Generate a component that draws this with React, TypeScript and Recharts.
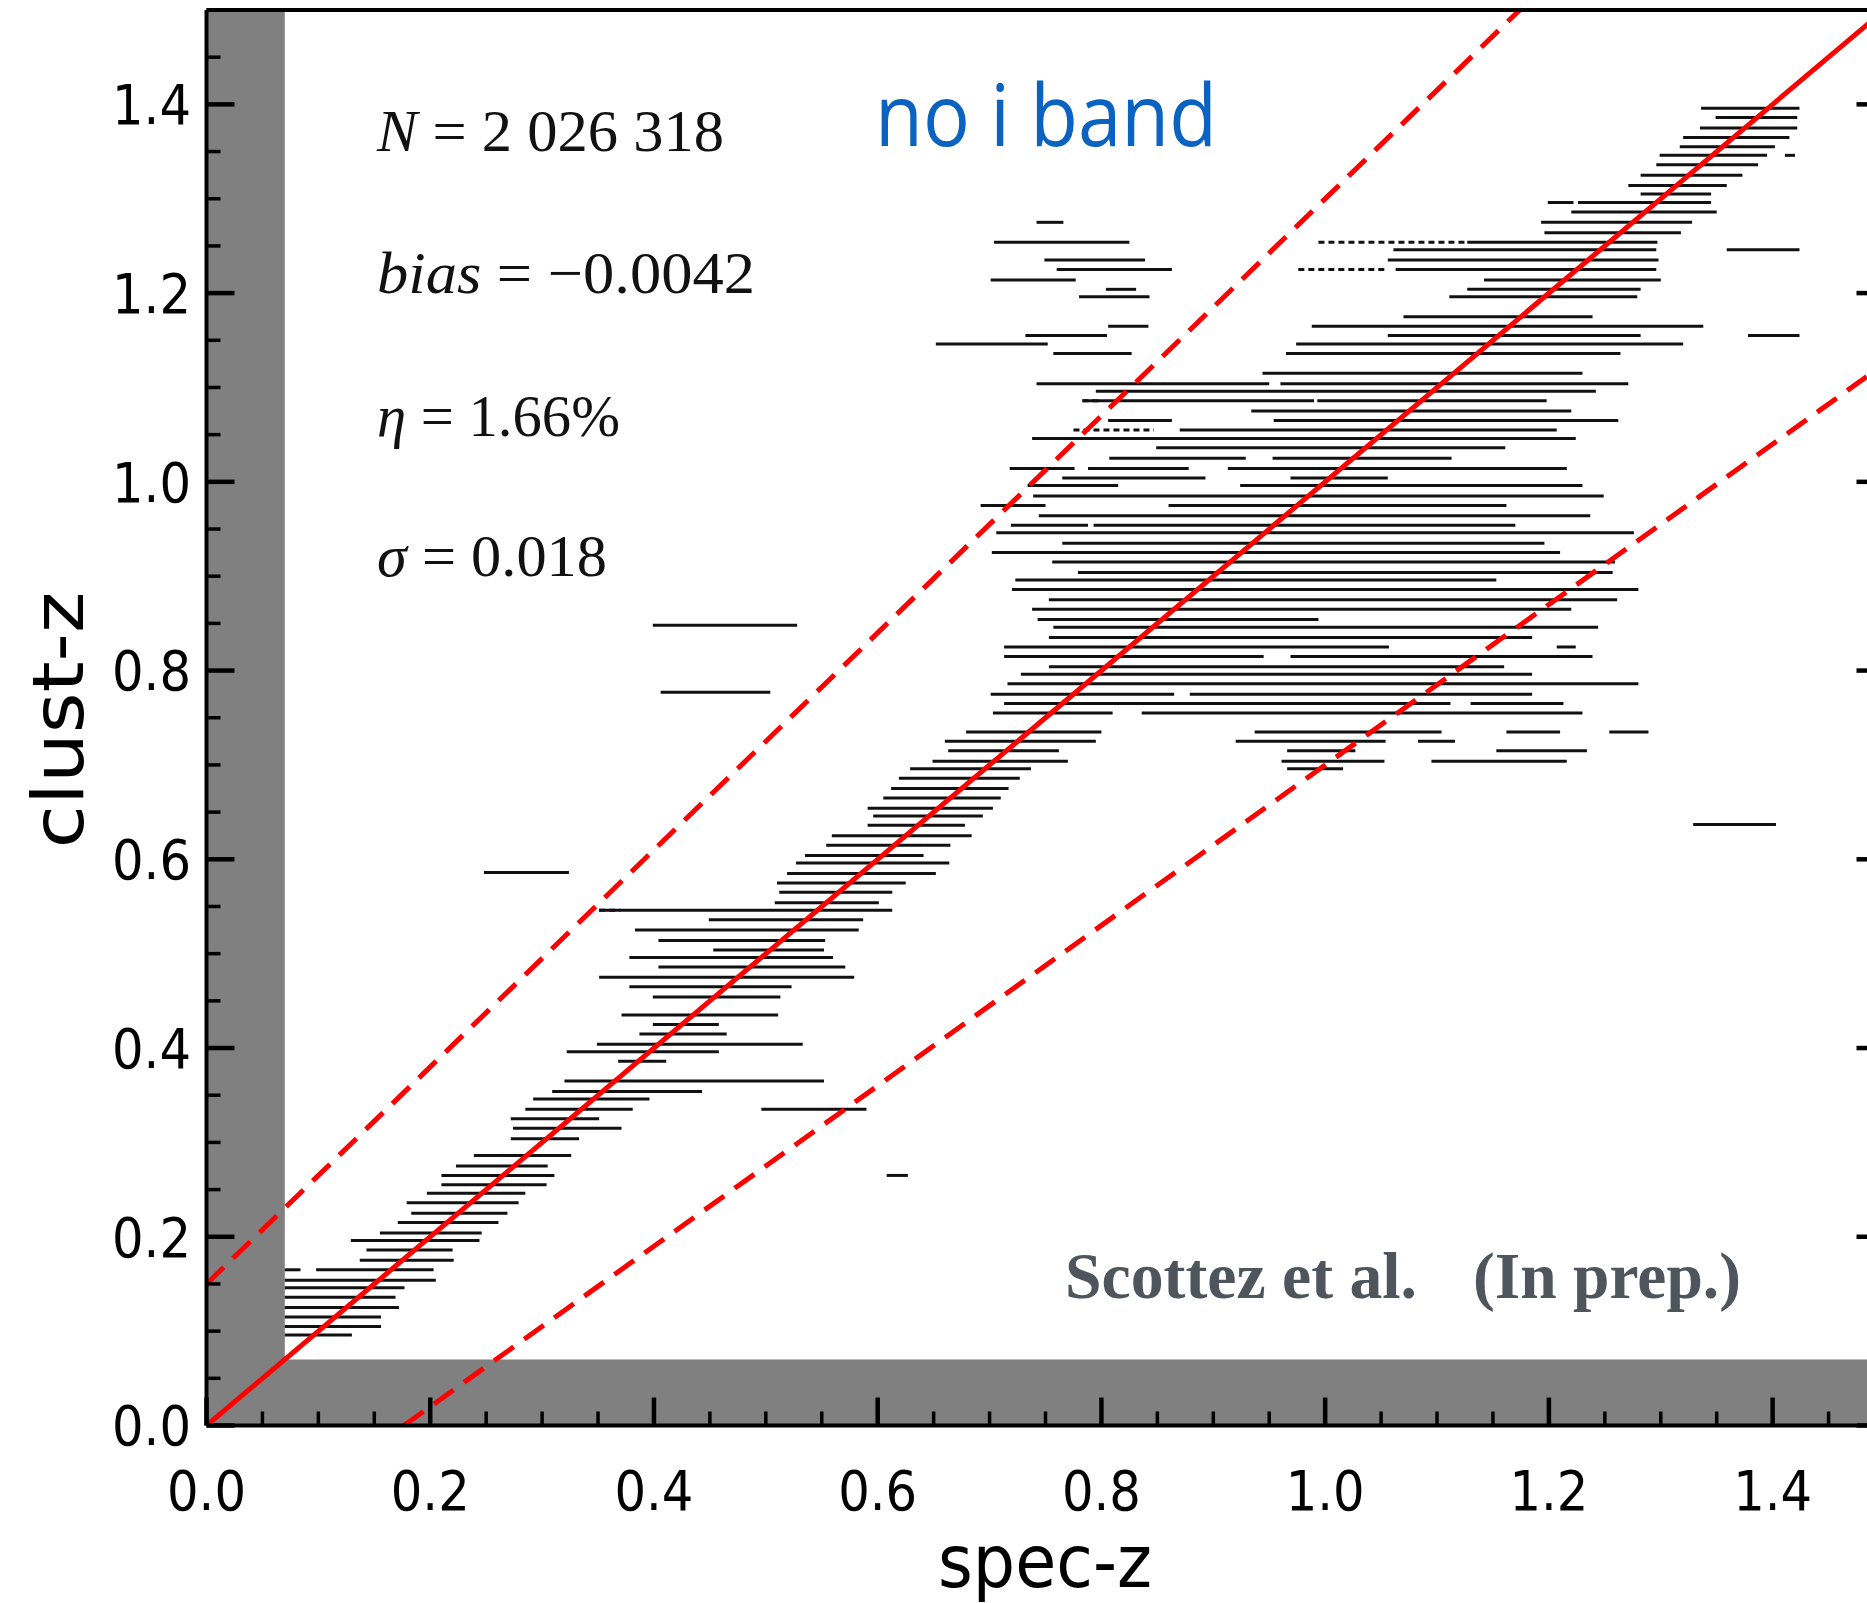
import React from 'react';
import { ComposedChart, XAxis, YAxis, ReferenceLine, ReferenceArea } from 'recharts';

// each row: [clust-z, spec-z start, spec-z end]
type Row = [number, number, number];

// upper part of the diagonal (clust-z > 1.19)
const upperRows: Row[] = [
  [1.396, 1.336, 1.424], [1.386, 1.349, 1.422], [1.375, 1.335, 1.422], [1.365, 1.32, 1.415],
  [1.355, 1.317, 1.402], [1.346, 1.299, 1.395], [1.346, 1.411, 1.42], [1.336, 1.296, 1.387],
  [1.325, 1.282, 1.373], [1.314, 1.271, 1.359], [1.305, 1.282, 1.345], [1.296, 1.199, 1.222],
  [1.296, 1.226, 1.345], [1.286, 1.22, 1.35], [1.275, 1.193, 1.328], [1.264, 1.196, 1.318],
  [1.254, 1.127, 1.297], [1.254, 0.704, 0.825], [1.246, 1.061, 1.296], [1.235, 1.056, 1.298],
  [1.235, 0.749, 0.839], [1.225, 1.063, 1.296], [1.225, 0.76, 0.863], [1.214, 1.142, 1.3],
  [1.214, 0.701, 0.777], [1.204, 1.127, 1.282], [1.204, 0.804, 0.831], [1.196, 1.111, 1.279],
  [1.196, 0.78, 0.843],
];

// broad plateau (0.95 < clust-z < 1.19)
const plateauRows: Row[] = [
  [1.175, 1.07, 1.239], [1.165, 0.806, 0.842], [1.165, 0.988, 1.338], [1.155, 0.732, 0.805],
  [1.155, 1.056, 1.282], [1.146, 0.652, 0.752], [1.146, 0.974, 1.32], [1.136, 0.757, 0.827],
  [1.136, 0.965, 1.264], [1.115, 0.944, 1.23], [1.104, 0.742, 0.95], [1.104, 0.96, 1.271],
  [1.096, 0.795, 1.242], [1.086, 0.783, 0.99], [1.086, 0.993, 1.198], [1.075, 0.934, 1.22],
  [1.065, 0.806, 0.863], [1.065, 0.954, 1.262], [1.055, 0.87, 1.207], [1.046, 0.738, 1.224],
  [1.036, 0.849, 1.161], [1.025, 0.807, 0.929], [1.025, 0.953, 1.113], [1.014, 0.718, 0.776],
  [1.014, 0.788, 0.878], [1.014, 0.913, 1.216], [1.004, 0.765, 0.893], [1.004, 0.969, 1.056],
  [0.996, 0.734, 0.815], [0.996, 0.924, 1.23], [0.985, 0.739, 1.249], [0.975, 0.692, 0.75],
  [0.975, 0.86, 1.162], [0.964, 0.744, 1.237], [0.954, 0.719, 0.788], [0.954, 0.793, 1.17],
];

// dense core (0.69 < clust-z < 0.95)
const coreRows: Row[] = [
  [0.946, 0.706, 1.276], [0.935, 0.765, 1.196], [0.925, 0.702, 1.21], [0.915, 0.756, 1.259],
  [0.904, 0.779, 1.257], [0.896, 0.723, 1.153], [0.886, 0.72, 1.28], [0.875, 0.753, 1.261],
  [0.865, 0.738, 1.22], [0.854, 0.743, 0.994], [0.846, 0.757, 1.244], [0.835, 0.753, 1.185],
  [0.825, 0.713, 1.057], [0.825, 1.207, 1.224], [0.815, 0.713, 0.945], [0.815, 0.969, 1.239],
  [0.804, 0.753, 1.16], [0.796, 0.728, 1.185], [0.786, 0.716, 1.28], [0.775, 0.701, 0.865],
  [0.775, 0.879, 1.185], [0.765, 0.713, 1.112], [0.765, 1.13, 1.213], [0.755, 0.703, 0.81],
  [0.755, 0.836, 1.23], [0.735, 0.679, 0.8], [0.735, 0.937, 1.104], [0.735, 1.162, 1.21],
  [0.735, 1.254, 1.289], [0.725, 0.66, 0.795], [0.725, 0.92, 1.054], [0.725, 1.083, 1.116],
  [0.715, 0.663, 0.762], [0.715, 0.966, 1.027], [0.715, 1.153, 1.234], [0.704, 0.649, 0.77],
  [0.704, 0.961, 1.053], [0.704, 1.095, 1.216], [0.696, 0.629, 0.737], [0.696, 0.966, 1.016],
];

// lower diagonal (clust-z < 0.69)
const lowerRows: Row[] = [
  [0.686, 0.619, 0.727], [0.675, 0.612, 0.717], [0.665, 0.605, 0.71], [0.654, 0.591, 0.703],
  [0.646, 0.596, 0.694], [0.636, 0.591, 0.678], [0.625, 0.559, 0.684], [0.615, 0.554, 0.665],
  [0.604, 0.535, 0.641], [0.596, 0.527, 0.664], [0.585, 0.519, 0.652], [0.575, 0.51, 0.625],
  [0.565, 0.512, 0.613], [0.554, 0.508, 0.601], [0.546, 0.351, 0.613], [0.536, 0.449, 0.587],
  [0.525, 0.383, 0.583], [0.514, 0.404, 0.553], [0.504, 0.453, 0.552], [0.496, 0.378, 0.56],
  [0.486, 0.404, 0.571], [0.475, 0.351, 0.579], [0.465, 0.378, 0.523], [0.454, 0.399, 0.513],
  [0.435, 0.371, 0.511], [0.425, 0.399, 0.458], [0.415, 0.387, 0.465], [0.404, 0.349, 0.533],
  [0.396, 0.322, 0.458], [0.386, 0.368, 0.411], [0.365, 0.32, 0.552], [0.354, 0.309, 0.443],
  [0.346, 0.292, 0.396], [0.335, 0.285, 0.381], [0.325, 0.272, 0.351], [0.315, 0.274, 0.371],
  [0.304, 0.272, 0.333], [0.286, 0.239, 0.326], [0.275, 0.223, 0.305], [0.265, 0.21, 0.311],
  [0.255, 0.21, 0.304], [0.246, 0.197, 0.285], [0.236, 0.179, 0.279], [0.225, 0.183, 0.269],
  [0.215, 0.171, 0.261], [0.204, 0.155, 0.246], [0.196, 0.129, 0.244], [0.186, 0.143, 0.22],
  [0.175, 0.137, 0.221], [0.165, 0.07, 0.084], [0.165, 0.098, 0.203], [0.154, 0.07, 0.205],
  [0.146, 0.07, 0.177], [0.136, 0.07, 0.169], [0.125, 0.07, 0.172], [0.115, 0.07, 0.156],
  [0.105, 0.07, 0.156], [0.096, 0.07, 0.13],
];

// isolated rows away from the diagonal
const strayRows: Row[] = [
  [1.275, 0.742, 0.766], [1.246, 1.359, 1.424], [1.155, 1.378, 1.424], [0.848, 0.399, 0.528],
  [0.777, 0.406, 0.504], [0.637, 1.329, 1.403], [0.586, 0.248, 0.324], [0.335, 0.496, 0.59],
  [0.265, 0.608, 0.627],
];

// sparse (dotted) rows
const sparseRows: Row[] = [
  [1.254, 0.994, 1.127], [1.225, 0.976, 1.056], [1.055, 0.775, 0.847], [1.086, 0.783, 0.8],
  [0.546, 0.351, 0.37],
];

// outlier limits |dz| = 0.15 (1 + z) and the 1:1 line
const oneToOne = [{ x: 0, y: 0 }, { x: 1.5, y: 1.5 }];
const upperLimit = [{ x: 0, y: 0.15 }, { x: 1.1739, y: 1.5 }];
const lowerLimit = [{ x: 0.1765, y: 0 }, { x: 1.5, y: 1.125 }];

// masked region below z = 0.07
const maskEdge = 0.07;

const majorTicks = [0, 0.2, 0.4, 0.6, 0.8, 1.0, 1.2, 1.4];
const axisTicks = [
  0, 0.05, 0.1, 0.15, 0.2, 0.25, 0.3, 0.35, 0.4, 0.45, 0.5, 0.55, 0.6, 0.65, 0.7, 0.75,
  0.8, 0.85, 0.9, 0.95, 1.0, 1.05, 1.1, 1.15, 1.2, 1.25, 1.3, 1.35, 1.4, 1.45, 1.5,
];

const isMajor = (v: number) => majorTicks.some((m) => Math.abs(m - v) < 1e-6);

const MAJOR = 28;
const MINOR = 14;
const MAJOR_W = 4.5;
const MINOR_W = 3.5;
const tickFont = "'DejaVu Sans', sans-serif";

const BottomTick = (props: any) => {
  const { x, y, payload } = props;
  const major = isMajor(payload.value);
  return (
    <g>
      <line x1={x} y1={y} x2={x} y2={y - (major ? MAJOR : MINOR)} stroke="#000" strokeWidth={major ? MAJOR_W : MINOR_W} />
      {major && (
        <text
          transform={`translate(${x},${y + 84.5}) scale(1,1.1)`}
          textAnchor="middle"
          fontFamily={tickFont}
          fontSize={50}
          textLength={79}
          lengthAdjust="spacingAndGlyphs"
          fill="#000"
        >
          {payload.value.toFixed(1)}
        </text>
      )}
    </g>
  );
};

const TopTick = (props: any) => {
  const { x, y, payload } = props;
  const major = isMajor(payload.value);
  return <line x1={x} y1={y} x2={x} y2={y + (major ? MAJOR : MINOR)} stroke="#000" strokeWidth={major ? MAJOR_W : MINOR_W} />;
};

const LeftTick = (props: any) => {
  const { x, y, payload } = props;
  const major = isMajor(payload.value);
  return (
    <g>
      <line x1={x} y1={y} x2={x + (major ? MAJOR : MINOR)} y2={y} stroke="#000" strokeWidth={major ? MAJOR_W : MINOR_W} />
      {major && (
        <text
          transform={`translate(${x - 15.5},${y}) scale(1,1.1)`}
          dy="0.36em"
          textAnchor="end"
          fontFamily={tickFont}
          fontSize={50}
          textLength={79}
          lengthAdjust="spacingAndGlyphs"
          fill="#000"
        >
          {payload.value.toFixed(1)}
        </text>
      )}
    </g>
  );
};

const RightTick = (props: any) => {
  const { x, y, payload } = props;
  const major = isMajor(payload.value);
  return <line x1={x} y1={y} x2={x - (major ? MAJOR : MINOR)} y2={y} stroke="#000" strokeWidth={major ? MAJOR_W : MINOR_W} />;
};

const rowLines = (rows: Row[], prefix: string, dashed = false) =>
  rows.map(([z, x1, x2], i) => (
    <ReferenceLine
      key={`${prefix}-${i}`}
      segment={[{ x: x1, y: z }, { x: x2, y: z }]}
      stroke="#111"
      strokeWidth={3}
      strokeDasharray={dashed ? '6 4' : undefined}
      ifOverflow="visible"
    />
  ));

const axisLine = { stroke: '#000', strokeWidth: 4 };

export default function App() {
  return (
    <div style={{ position: 'fixed', left: 0, top: 0, width: 1867, height: 1603, overflow: 'hidden', background: '#fff' }}>
      <ComposedChart width={1900} height={1603} margin={{ top: 0, right: 5.5, bottom: 117.5, left: 146.5 }} data={[]}>
        {rowLines(upperRows, 'u')}
        {rowLines(plateauRows, 'p')}
        {rowLines(coreRows, 'c')}
        {rowLines(lowerRows, 'l')}
        {rowLines(strayRows, 's')}
        {rowLines(sparseRows, 'd', true)}

        <ReferenceArea x1={0} x2={maskEdge} y1={0} y2={1.5} fill="#808080" fillOpacity={1} stroke="none" ifOverflow="visible" />
        <ReferenceArea x1={0} x2={1.5} y1={0} y2={maskEdge} fill="#808080" fillOpacity={1} stroke="none" ifOverflow="visible" />

        <ReferenceLine segment={oneToOne} stroke="#ff0000" strokeWidth={5} ifOverflow="visible" />
        <ReferenceLine segment={upperLimit} stroke="#ff0000" strokeWidth={5} strokeDasharray="24 13" ifOverflow="visible" />
        <ReferenceLine segment={lowerLimit} stroke="#ff0000" strokeWidth={5} strokeDasharray="24 13" ifOverflow="visible" />

        <XAxis
          type="number"
          dataKey="x"
          domain={[0, 1.5]}
          allowDataOverflow
          ticks={axisTicks}
          interval={0}
          height={60}
          tickSize={0}
          tickMargin={0}
          tickLine={false}
          axisLine={axisLine}
          tick={<BottomTick />}
        />
        <XAxis
          xAxisId="top"
          orientation="top"
          type="number"
          domain={[0, 1.5]}
          allowDataOverflow
          ticks={axisTicks}
          interval={0}
          height={10}
          tickSize={0}
          tickMargin={0}
          tickLine={false}
          axisLine={axisLine}
          tick={<TopTick />}
        />
        <YAxis
          type="number"
          dataKey="y"
          domain={[0, 1.5]}
          allowDataOverflow
          ticks={axisTicks}
          interval={0}
          width={60}
          tickSize={0}
          tickMargin={0}
          tickLine={false}
          axisLine={axisLine}
          tick={<LeftTick />}
        />
        <YAxis
          yAxisId="right"
          orientation="right"
          type="number"
          domain={[0, 1.5]}
          allowDataOverflow
          ticks={axisTicks}
          interval={0}
          width={10}
          tickSize={0}
          tickMargin={0}
          tickLine={false}
          axisLine={axisLine}
          tick={<RightTick />}
        />
      </ComposedChart>

      <svg width={1867} height={1603} style={{ position: 'absolute', left: 0, top: 0, pointerEvents: 'none' }}>
        <g fontFamily="'Liberation Serif', serif" fill="#111" fontSize={54}>
          <text transform="translate(377,151) scale(1,1.1)" textLength={347} lengthAdjust="spacingAndGlyphs">
            <tspan fontStyle="italic">N</tspan> = 2 026 318
          </text>
          <text transform="translate(377,293) scale(1,1.1)" textLength={378} lengthAdjust="spacingAndGlyphs">
            <tspan fontStyle="italic">bias</tspan> = −0.0042
          </text>
          <text transform="translate(377,436) scale(1,1.1)" textLength={243} lengthAdjust="spacingAndGlyphs">
            <tspan fontStyle="italic">η</tspan> = 1.66%
          </text>
          <text transform="translate(377,576) scale(1,1.1)" textLength={230} lengthAdjust="spacingAndGlyphs">
            <tspan fontStyle="italic">σ</tspan> = 0.018
          </text>
        </g>
        <text
          transform="translate(875,146) scale(1,1.1)"
          fontFamily="'Open Sans', sans-serif"
          fontSize={78}
          fill="#0b63c1"
          textLength={342}
          lengthAdjust="spacingAndGlyphs"
        >
          no i band
        </text>
        <g fontFamily="'Liberation Serif', serif" fontWeight="bold" fontSize={60} fill="#4e555d">
          <text transform="translate(1065,1298) scale(1,1.1)" textLength={352} lengthAdjust="spacingAndGlyphs">
            Scottez et al.
          </text>
          <text transform="translate(1473,1298) scale(1,1.1)" textLength={268} lengthAdjust="spacingAndGlyphs">
            (In prep.)
          </text>
        </g>
        <text
          transform="translate(1045,1587) scale(1,1.1)"
          textAnchor="middle"
          fontFamily={tickFont}
          fontSize={66}
          fill="#000"
          textLength={214}
          lengthAdjust="spacingAndGlyphs"
        >
          spec-z
        </text>
        <text
          transform="translate(83,720) scale(1,1.1) rotate(-90)"
          textAnchor="middle"
          fontFamily={tickFont}
          fontSize={72}
          fill="#000"
          textLength={233}
          lengthAdjust="spacingAndGlyphs"
        >
          clust-z
        </text>
      </svg>
    </div>
  );
}
